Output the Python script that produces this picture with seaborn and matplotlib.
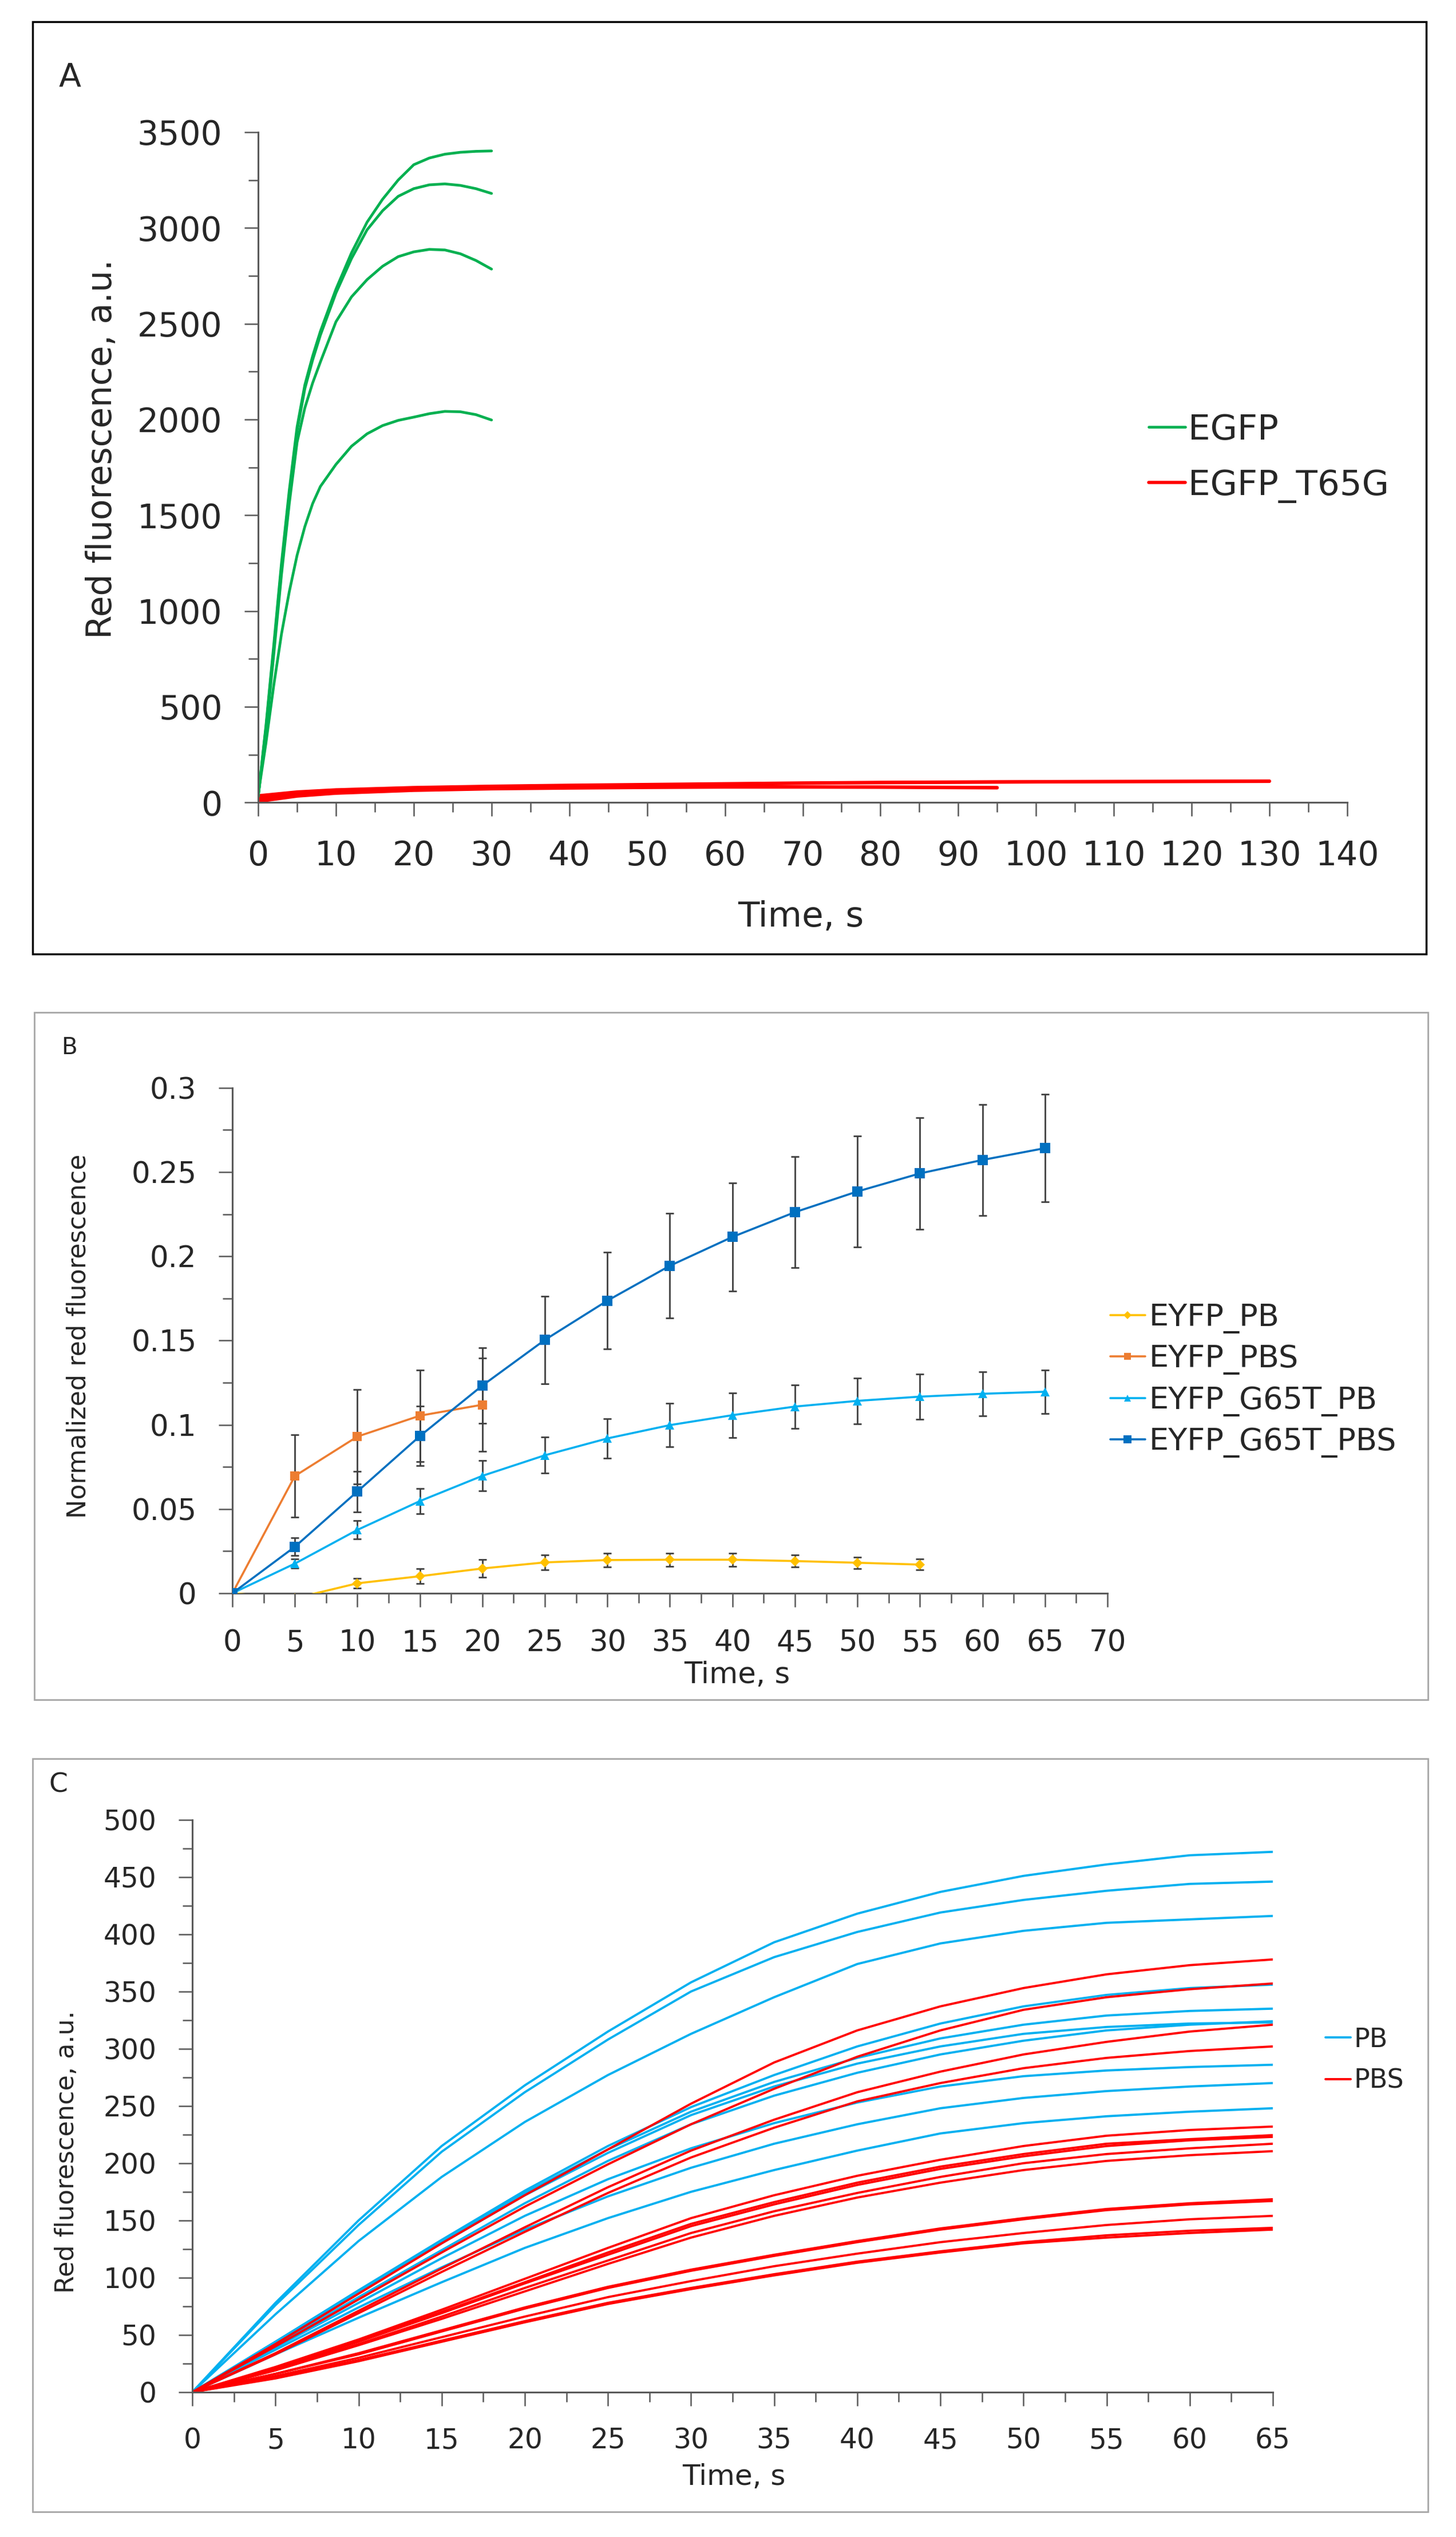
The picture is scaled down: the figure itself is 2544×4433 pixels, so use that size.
import matplotlib
matplotlib.use("Agg")
import matplotlib.pyplot as plt
from matplotlib.lines import Line2D
from matplotlib.patches import Rectangle
from matplotlib.ticker import MultipleLocator
import seaborn as sns
import pandas as pd

# ---------------- panel A: EGFP vs EGFP_T65G ----------------
a_time_egfp = [0, 1, 2, 3, 4, 5, 6, 7, 8, 10, 12, 14, 16, 18, 20, 22, 24, 26, 28, 30]
egfp_1 = [30, 400, 820, 1250, 1630, 1960, 2180, 2330, 2460, 2680, 2870, 3030, 3150, 3250, 3330, 3365, 3385, 3395, 3400, 3402]
egfp_2 = [30, 390, 800, 1230, 1610, 1940, 2160, 2310, 2440, 2660, 2840, 2990, 3090, 3165, 3205, 3225, 3230, 3222, 3205, 3180]
egfp_3 = [30, 370, 770, 1190, 1560, 1880, 2060, 2190, 2300, 2510, 2640, 2730, 2800, 2850, 2875, 2888, 2885, 2865, 2830, 2785]
egfp_4 = [40, 310, 610, 880, 1100, 1290, 1440, 1560, 1650, 1765, 1860, 1925, 1968, 1995, 2012, 2030, 2042, 2040, 2025, 1997]

a_time_red_long = [0, 5, 10, 20, 30, 40, 50, 60, 70, 80, 90, 100, 110, 120, 130]
t65g_1 = [35, 55, 66, 78, 85, 90, 94, 98, 102, 105, 107, 109, 110, 111, 112]
t65g_2 = [25, 48, 61, 74, 81, 87, 91, 96, 100, 103, 105, 107, 108, 109, 110]
a_time_red_short = [0, 5, 10, 20, 30, 40, 50, 60, 70, 80, 90, 95]
t65g_3 = [15, 40, 54, 68, 75, 79, 81, 82, 82, 81, 79, 78]
t65g_4 = [5, 33, 48, 63, 71, 75, 78, 80, 80, 79, 77, 76]

# ---------------- panel B: normalized red fluorescence ----------------
b_series = ["EYFP_PB", "EYFP_PBS", "EYFP_G65T_PB", "EYFP_G65T_PBS"]
b_time_pb = [0, 5, 10, 15, 20, 25, 30, 35, 40, 45, 50, 55]
eyfp_pb = [0, -0.003, 0.0059, 0.0101, 0.0147, 0.0183, 0.0197, 0.0199, 0.0199, 0.0191, 0.0181, 0.0170]
eyfp_pb_err = [0, 0, 0.0029, 0.0044, 0.0053, 0.0044, 0.0040, 0.0040, 0.0038, 0.0036, 0.0034, 0.0032]
b_time_pbs = [0, 5, 10, 15, 20]
eyfp_pbs = [0, 0.0696, 0.0930, 0.1054, 0.1119]
eyfp_pbs_err = [0, 0.0245, 0.0280, 0.0272, 0.0278]
b_time_g65t = [0, 5, 10, 15, 20, 25, 30, 35, 40, 45, 50, 55, 60, 65]
g65t_pb = [0, 0.0176, 0.0376, 0.0547, 0.0697, 0.0819, 0.0919, 0.0998, 0.1057, 0.1108, 0.1142, 0.1167, 0.1184, 0.1196]
g65t_pb_err = [0, 0.0028, 0.0055, 0.0075, 0.0090, 0.0107, 0.0118, 0.0128, 0.0133, 0.0130, 0.0135, 0.0133, 0.0130, 0.0130]
g65t_pbs = [0, 0.0276, 0.0604, 0.0933, 0.1233, 0.1504, 0.1737, 0.1944, 0.2115, 0.2262, 0.2385, 0.2492, 0.2572, 0.2642]
g65t_pbs_err = [0, 0.0053, 0.0121, 0.0176, 0.0224, 0.0260, 0.0288, 0.0310, 0.0320, 0.0330, 0.0330, 0.0330, 0.0330, 0.0320]

# ---------------- panel C: PB vs PBS ----------------
c_time = [0, 5, 10, 15, 20, 25, 30, 35, 40, 45, 50, 55, 60, 65]
pb_curves = [
    [0, 78, 150, 215, 268, 315, 358, 393, 418, 437, 451, 461, 469, 472],
    [0, 76, 146, 210, 262, 308, 350, 380, 402, 419, 430, 438, 444, 446],
    [0, 68, 132, 188, 236, 277, 313, 345, 374, 392, 403, 410, 413, 416],
    [0, 44, 89, 133, 176, 215, 249, 277, 302, 322, 337, 347, 353, 356],
    [0, 44, 88, 131, 174, 212, 245, 271, 292, 309, 321, 329, 333, 335],
    [0, 43, 87, 130, 172, 209, 242, 267, 287, 302, 313, 319, 322, 323],
    [0, 41, 83, 124, 165, 202, 234, 259, 279, 295, 307, 316, 321, 324],
    [0, 39, 78, 117, 154, 186, 213, 235, 253, 267, 276, 281, 284, 286],
    [0, 37, 74, 109, 142, 171, 196, 217, 234, 248, 257, 263, 267, 270],
    [0, 33, 65, 96, 126, 152, 175, 194, 211, 226, 235, 241, 245, 248],
]
pbs_curves = [
    [0, 42, 86, 130, 172, 212, 252, 288, 316, 337, 353, 365, 373, 378],
    [0, 40, 81, 122, 162, 199, 234, 265, 293, 316, 334, 345, 352, 357],
    [0, 34, 71, 108, 144, 179, 211, 238, 262, 280, 295, 306, 315, 321],
    [0, 33, 69, 105, 140, 174, 205, 231, 254, 270, 283, 292, 298, 302],
    [0, 22, 46, 72, 99, 126, 152, 172, 189, 203, 215, 224, 229, 232],
    [0, 21, 45, 70, 96, 122, 147, 166, 183, 197, 208, 217, 221, 224.5],
    [0, 21, 44, 69, 95, 120, 145, 164, 181, 195, 206, 215, 220, 223],
    [0, 20, 42, 66, 91, 115, 139, 158, 174, 188, 200, 208, 213, 217],
    [0, 19, 41, 64, 88, 112, 135, 154, 170, 183, 194, 202, 207, 210.5],
    [0, 16, 34, 54, 74, 92, 107, 120, 132, 143, 152, 160, 165, 168.5],
    [0, 16, 33, 53, 73, 91, 106, 119, 131, 142, 151, 159, 164, 167],
    [0, 14, 30, 48, 66, 83, 97, 110, 121, 131, 139, 146, 151, 154],
    [0, 13, 28, 45, 62, 78, 91, 103, 114, 123, 131, 137, 141, 143.5],
    [0, 12, 27, 44, 61, 77, 90, 102, 113, 122, 130, 135, 139, 142],
]

GREEN, RED = "#00B050", "#FF0000"
LIGHT_BLUE, DARK_BLUE = "#00B0F0", "#0070C0"
YELLOW, ORANGE = "#FFC000", "#ED7D31"
AXIS_GREY = "#595959"


def long_table(curves_by_group):
    rows = []
    for group, curves in curves_by_group.items():
        for i, (times, vals) in enumerate(curves):
            for t, v in zip(times, vals):
                rows.append({"time": t, "value": v, "group": group, "curve": f"{group}_{i}"})
    return pd.DataFrame(rows)


def style_axis(ax, xlim, ylim, xmaj, xmin, ymaj, ymin, labelsize, xpad, ypad):
    ax.set_xlim(*xlim)
    ax.set_ylim(*ylim)
    ax.xaxis.set_major_locator(MultipleLocator(xmaj))
    ax.xaxis.set_minor_locator(MultipleLocator(xmin))
    ax.yaxis.set_major_locator(MultipleLocator(ymaj))
    ax.yaxis.set_minor_locator(MultipleLocator(ymin))
    for side in ["top", "right"]:
        ax.spines[side].set_visible(False)
    for side in ["left", "bottom"]:
        ax.spines[side].set_color(AXIS_GREY)
        ax.spines[side].set_linewidth(2.2)
    ax.tick_params(which="both", direction="out", color=AXIS_GREY, width=1.8,
                   bottom=True, left=True)
    ax.tick_params(which="major", length=17, labelsize=labelsize)
    ax.tick_params(axis="x", which="major", pad=xpad)
    ax.tick_params(axis="y", which="major", pad=ypad)
    ax.tick_params(which="minor", length=12)
    ax.set_xlabel("")
    ax.set_ylabel("")
    ax.grid(False)


sns.set_style("white")
plt.rcParams["font.family"] = ["DejaVu Sans"]

fig = plt.figure(figsize=(25.44, 44.33), dpi=100)

# frames around the three panels
fig.add_artist(Rectangle((0.0224, 0.6240), 0.9572, 0.3675, transform=fig.transFigure,
                         fill=False, edgecolor="black", linewidth=2.5))
fig.add_artist(Rectangle((0.0236, 0.3300), 0.9572, 0.2709, transform=fig.transFigure,
                         fill=False, edgecolor="#A6A6A6", linewidth=2.0))
fig.add_artist(Rectangle((0.0224, 0.0099), 0.9583, 0.2969, transform=fig.transFigure,
                         fill=False, edgecolor="#A6A6A6", linewidth=2.0))

# ---------------- A ----------------
axA = fig.add_axes([0.1773, 0.6837, 0.7480, 0.2642])
dfA = long_table({
    "EGFP": [(a_time_egfp, egfp_1), (a_time_egfp, egfp_2), (a_time_egfp, egfp_3), (a_time_egfp, egfp_4)],
    "EGFP_T65G": [(a_time_red_long, t65g_1), (a_time_red_long, t65g_2),
                  (a_time_red_short, t65g_3), (a_time_red_short, t65g_4)],
})
sns.lineplot(data=dfA[dfA.group == "EGFP_T65G"], x="time", y="value", units="curve",
             estimator=None, color=RED, lw=4.0, legend=False, ax=axA)
sns.lineplot(data=dfA[dfA.group == "EGFP"], x="time", y="value", units="curve",
             estimator=None, color=GREEN, lw=3.4, legend=False, ax=axA)
style_axis(axA, (0, 140), (0, 3500), 10, 5, 500, 250, 42, 30, 28)
axA.legend(handles=[Line2D([], [], color=GREEN, lw=3.4), Line2D([], [], color=RED, lw=4.0)],
           labels=["EGFP", "EGFP_T65G"], loc="center left", bbox_to_anchor=(0.789, 0.8195),
           bbox_transform=fig.transFigure, frameon=False, fontsize=44, handlelength=1.05,
           handletextpad=0.08, labelspacing=0.62, borderpad=0, borderaxespad=0)
fig.text(0.048, 0.9693, "A", fontsize=41, ha="center", va="center")
fig.text(0.0700, 0.8231, "Red fluorescence, a.u.", fontsize=43, rotation=90,
         ha="center", va="center")
fig.text(0.550, 0.6384, "Time, s", fontsize=44, ha="center", va="center")

# ---------------- B ----------------
axB = fig.add_axes([0.1596, 0.3720, 0.6010, 0.1992])
b_specs = [
    ("EYFP_PB", b_time_pb, eyfp_pb, eyfp_pb_err, YELLOW, "D", 9),
    ("EYFP_PBS", b_time_pbs, eyfp_pbs, eyfp_pbs_err, ORANGE, "s", 12),
    ("EYFP_G65T_PB", b_time_g65t, g65t_pb, g65t_pb_err, LIGHT_BLUE, "^", 12),
    ("EYFP_G65T_PBS", b_time_g65t, g65t_pbs, g65t_pbs_err, DARK_BLUE, "s", 13.5),
]
handlesB = []
for name, t, v, e, col, mk, ms in b_specs:
    axB.errorbar(t, v, yerr=e, fmt="none", ecolor="#404040", elinewidth=2.0,
                 capsize=5, capthick=2.0, zorder=2)
    sns.lineplot(x=t, y=v, color=col, lw=2.6, marker=mk, markersize=ms,
                 markeredgewidth=0, legend=False, ax=axB, zorder=3)
    handlesB.append(Line2D([], [], color=col, lw=2.6, marker=mk, markersize=ms * 0.75,
                           markeredgewidth=0))
style_axis(axB, (0, 70), (0, 0.3), 5, 2.5, 0.05, 0.025, 37, 28, 28)
axB.yaxis.set_major_formatter(plt.FuncFormatter(lambda y, _: f"{y:g}"))
axB.legend(handles=handlesB, labels=b_series, loc="center left", bbox_to_anchor=(0.7626, 0.456),
           bbox_transform=fig.transFigure, frameon=False, fontsize=39, handlelength=1.12,
           handletextpad=0.13, labelspacing=0.34, borderpad=0, borderaxespad=0)
fig.text(0.048, 0.587, "B", fontsize=29, ha="center", va="center")
fig.text(0.0539, 0.4733, "Normalized red fluorescence", fontsize=32, rotation=90,
         ha="center", va="center")
fig.text(0.506, 0.3397, "Time, s", fontsize=37, ha="center", va="center")

# ---------------- C ----------------
axC = fig.add_axes([0.1321, 0.0571, 0.7421, 0.2256])
dfC = long_table({
    "PB": [(c_time, c) for c in pb_curves],
    "PBS": [(c_time, c) for c in pbs_curves],
})
sns.lineplot(data=dfC, x="time", y="value", hue="group", units="curve", estimator=None,
             palette={"PB": LIGHT_BLUE, "PBS": RED}, lw=2.8, legend=False, ax=axC)
style_axis(axC, (0, 65), (0, 500), 5, 2.5, 50, 25, 35, 27, 28)
axC.legend(handles=[Line2D([], [], color=LIGHT_BLUE, lw=2.8), Line2D([], [], color=RED, lw=2.8)],
           labels=["PB", "PBS"], loc="center left", bbox_to_anchor=(0.9104, 0.1879),
           bbox_transform=fig.transFigure, frameon=False, fontsize=33, handlelength=0.96,
           handletextpad=0.11, labelspacing=0.59, borderpad=0, borderaxespad=0)
fig.text(0.040, 0.2964, "C", fontsize=34, ha="center", va="center")
fig.text(0.0456, 0.1518, "Red fluorescence, a.u.", fontsize=32, rotation=90,
         ha="center", va="center")
fig.text(0.504, 0.0237, "Time, s", fontsize=36, ha="center", va="center")

fig.savefig("out.png", dpi=100, facecolor="white")
